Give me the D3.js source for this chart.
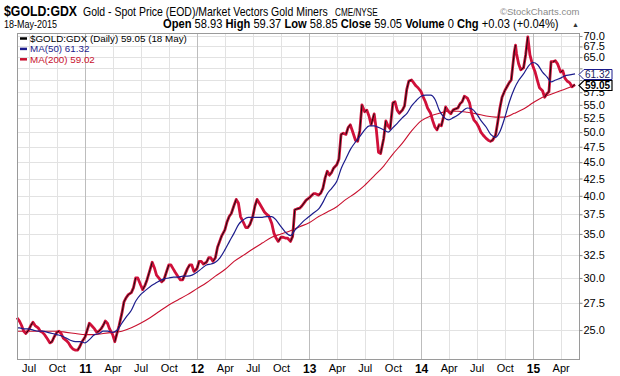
<!DOCTYPE html>
<html>
<head>
<meta charset="utf-8">
<script src="https://cdn.jsdelivr.net/npm/d3@7"></script>
<style>
  body { margin: 0; background: #fff; }
  svg { display: block; }
  text { font-family: "Liberation Sans", Arial, sans-serif; }
</style>
</head>
<body>
<div id="wrapper"></div>
<script>
/// Data ///
// $GOLD:GDX ratio, roughly weekly
const priceDates = [
  "2010-05-24",
  "2010-06-01","2010-06-08","2010-06-15","2010-06-22",
  "2010-07-01","2010-07-08","2010-07-15","2010-07-22",
  "2010-08-01","2010-08-08","2010-08-15","2010-08-22",
  "2010-09-01","2010-09-08","2010-09-15","2010-09-22",
  "2010-10-01","2010-10-08","2010-10-15","2010-10-22",
  "2010-11-01","2010-11-08","2010-11-15","2010-11-22",
  "2010-12-01","2010-12-08","2010-12-15","2010-12-22",
  "2011-01-01","2011-01-08","2011-01-15","2011-01-22",
  "2011-02-01","2011-02-08","2011-02-15","2011-02-22",
  "2011-03-01","2011-03-08","2011-03-15","2011-03-22",
  "2011-04-01","2011-04-08","2011-04-15","2011-04-22",
  "2011-05-01","2011-05-08","2011-05-15","2011-05-22",
  "2011-06-01","2011-06-08","2011-06-15","2011-06-22",
  "2011-07-01","2011-07-08","2011-07-15","2011-07-22",
  "2011-08-01","2011-08-08","2011-08-15","2011-08-22",
  "2011-09-01","2011-09-08","2011-09-15","2011-09-22",
  "2011-10-01","2011-10-08","2011-10-15","2011-10-22",
  "2011-11-01","2011-11-08","2011-11-15","2011-11-22",
  "2011-12-01","2011-12-08","2011-12-15","2011-12-22",
  "2012-01-01","2012-01-08","2012-01-15","2012-01-22",
  "2012-02-01","2012-02-08","2012-02-15","2012-02-22",
  "2012-03-01","2012-03-08","2012-03-15","2012-03-22",
  "2012-04-01","2012-04-08","2012-04-15","2012-04-22",
  "2012-05-01","2012-05-08","2012-05-15","2012-05-22",
  "2012-06-01","2012-06-08","2012-06-15","2012-06-22",
  "2012-07-01","2012-07-08","2012-07-15","2012-07-22",
  "2012-08-01","2012-08-08","2012-08-15","2012-08-22",
  "2012-09-01","2012-09-08","2012-09-15","2012-09-22",
  "2012-10-01","2012-10-08","2012-10-15","2012-10-22",
  "2012-11-01","2012-11-08","2012-11-15","2012-11-22",
  "2012-12-01","2012-12-08","2012-12-15","2012-12-22",
  "2013-01-01","2013-01-08","2013-01-15","2013-01-22",
  "2013-02-01","2013-02-08","2013-02-15","2013-02-22",
  "2013-03-01","2013-03-08","2013-03-15","2013-03-22",
  "2013-04-01","2013-04-08","2013-04-15","2013-04-22",
  "2013-05-01","2013-05-08","2013-05-15","2013-05-22",
  "2013-06-01","2013-06-08","2013-06-15","2013-06-22",
  "2013-07-01","2013-07-08","2013-07-15","2013-07-22",
  "2013-08-01","2013-08-08","2013-08-15","2013-08-22",
  "2013-09-01","2013-09-08","2013-09-15","2013-09-22",
  "2013-10-01","2013-10-08","2013-10-15","2013-10-22",
  "2013-11-01","2013-11-08","2013-11-15","2013-11-22",
  "2013-12-01","2013-12-08","2013-12-15","2013-12-22",
  "2014-01-01","2014-01-08","2014-01-15","2014-01-22",
  "2014-02-01","2014-02-08","2014-02-15","2014-02-22",
  "2014-03-01","2014-03-08","2014-03-15","2014-03-22",
  "2014-04-01","2014-04-08","2014-04-15","2014-04-22",
  "2014-05-01","2014-05-08","2014-05-15","2014-05-22",
  "2014-06-01","2014-06-08","2014-06-15","2014-06-22",
  "2014-07-01","2014-07-08","2014-07-15","2014-07-22",
  "2014-08-01","2014-08-08","2014-08-15","2014-08-22",
  "2014-09-01","2014-09-08","2014-09-15","2014-09-22",
  "2014-10-01","2014-10-08","2014-10-15","2014-10-22",
  "2014-11-01","2014-11-05","2014-11-08","2014-11-15","2014-11-22",
  "2014-12-01","2014-12-08","2014-12-15","2014-12-22",
  "2015-01-01","2015-01-08","2015-01-15","2015-01-22",
  "2015-02-01","2015-02-08","2015-02-15","2015-02-22",
  "2015-03-01","2015-03-08","2015-03-15","2015-03-22",
  "2015-04-01","2015-04-08","2015-04-15","2015-04-22",
  "2015-05-01","2015-05-08","2015-05-18"
];
const priceValues = [
  26.1,
  25.8, 25.4, 24.9, 24.7,
  25.0, 25.4, 25.7, 25.4,
  25.2, 24.9, 24.8, 24.6,
  24.2, 23.9, 24.0, 24.4,
  24.8, 24.9, 24.7, 24.3,
  24.1, 23.9, 23.6, 23.4,
  23.3, 23.3, 23.6, 24.0,
  24.4, 25.0, 25.6, 25.4,
  25.1, 24.8, 24.9, 25.1,
  25.4, 25.8, 25.6, 25.1,
  24.6, 24.0, 24.7, 25.4,
  26.5, 27.6, 28.0, 28.3,
  28.5, 29.0, 30.0, 30.0,
  29.3, 28.8, 29.2, 29.8,
  30.9, 31.7, 31.1, 30.3,
  29.9, 29.6, 29.8, 30.5,
  31.4, 31.4, 31.0, 30.6,
  30.1, 29.8, 29.8, 30.3,
  31.0, 31.4, 31.4, 30.7,
  31.0, 31.8, 31.8, 31.5,
  31.7, 32.2, 32.2, 31.8,
  32.2, 33.4, 34.1, 34.8,
  35.5, 36.5, 37.2, 37.6,
  38.7, 39.5, 39.0, 37.2,
  36.4, 35.8, 35.8, 36.2,
  37.2, 38.6, 39.5, 39.0,
  38.3, 37.8, 37.5, 37.3,
  36.3, 35.1, 34.5, 34.1,
  34.6, 34.6, 34.5, 34.5,
  34.1, 34.7, 38.1, 38.2,
  38.3, 38.6, 39.0, 39.4,
  39.7, 40.0, 40.3, 40.3,
  40.1, 40.4, 41.1, 42.6,
  43.6, 43.0, 43.4, 44.1,
  44.6, 45.5, 49.6, 49.8,
  49.6, 50.8, 51.3, 50.2,
  48.6, 48.4, 50.2, 55.0,
  53.7, 54.0, 52.9, 51.3,
  53.3, 50.4, 46.6, 46.4,
  48.9, 52.0, 51.1, 50.6,
  55.4, 55.6, 54.0, 53.4,
  54.0, 54.8, 58.0, 59.8,
  60.0, 59.4, 58.8, 58.4,
  57.6, 56.5, 55.6, 54.4,
  53.4, 52.0, 50.9, 50.4,
  51.3, 51.1, 52.7, 54.6,
  53.7, 53.3, 54.0, 54.2,
  54.4, 55.2, 55.6, 56.7,
  56.3, 55.4, 53.3, 52.2,
  51.6, 50.9, 50.0, 49.5,
  48.9, 48.6, 48.4, 48.6,
  49.5, 51.8, 54.4, 56.5,
  57.8, 58.6, 59.4, 60.0,
  66.2, 67.8, 65.9, 63.5, 62.2,
  62.6, 65.5, 69.8, 65.5,
  62.9, 61.7, 60.0, 58.4,
  57.8, 56.5, 57.2, 57.6,
  64.0, 64.0, 64.2, 63.5,
  61.7, 62.0, 60.4, 59.8,
  59.4, 58.6, 59.05
];

// MA(50), twice a month
const ma50Dates = [
  "2010-05-24","2010-06-01","2010-06-16","2010-07-01","2010-07-16","2010-08-01","2010-08-16",
  "2010-09-01","2010-09-16","2010-10-01","2010-10-16","2010-11-01","2010-11-16","2010-12-01","2010-12-16",
  "2011-01-01","2011-01-16","2011-02-01","2011-02-16","2011-03-01","2011-03-16","2011-04-01","2011-04-16",
  "2011-05-01","2011-05-16","2011-06-01","2011-06-16","2011-07-01","2011-07-16","2011-08-01","2011-08-16",
  "2011-09-01","2011-09-16","2011-10-01","2011-10-16","2011-11-01","2011-11-16","2011-12-01","2011-12-16",
  "2012-01-01","2012-01-16","2012-02-01","2012-02-16","2012-03-01","2012-03-16","2012-04-01","2012-04-16",
  "2012-05-01","2012-05-16","2012-06-01","2012-06-16","2012-07-01","2012-07-16","2012-08-01","2012-08-16",
  "2012-09-01","2012-09-16","2012-10-01","2012-10-16","2012-11-01","2012-11-16","2012-12-01","2012-12-16",
  "2013-01-01","2013-01-16","2013-02-01","2013-02-16","2013-03-01","2013-03-16","2013-04-01","2013-04-16",
  "2013-05-01","2013-05-16","2013-06-01","2013-06-16","2013-07-01","2013-07-16","2013-08-01","2013-08-16",
  "2013-09-01","2013-09-16","2013-10-01","2013-10-16","2013-11-01","2013-11-16","2013-12-01","2013-12-16",
  "2014-01-01","2014-01-16","2014-02-01","2014-02-16","2014-03-01","2014-03-16","2014-04-01","2014-04-16",
  "2014-05-01","2014-05-16","2014-06-01","2014-06-16","2014-07-01","2014-07-16","2014-08-01","2014-08-16",
  "2014-09-01","2014-09-16","2014-10-01","2014-10-16","2014-11-01","2014-11-16","2014-12-01","2014-12-16",
  "2015-01-01","2015-01-16","2015-02-01","2015-02-16","2015-03-01","2015-03-16","2015-04-01","2015-04-16",
  "2015-05-01","2015-05-18"
];
const ma50Values = [
  25.2, 25.2, 25.1, 25.1, 25.0, 24.9, 24.9,
  24.8, 24.7, 24.6, 24.5, 24.3, 24.1, 24.0, 24.0,
  23.9, 24.2, 24.6, 24.7, 24.9, 24.9, 24.8, 25.0,
  25.6, 26.2, 26.8, 27.7, 28.3, 28.7, 29.1, 29.4,
  29.7, 29.9, 30.0, 30.1, 30.1, 30.2, 30.2, 30.3,
  30.6, 31.0, 31.4, 31.5, 31.7, 32.2, 33.1, 34.1,
  35.1, 36.2, 36.8, 37.1, 37.1, 37.1, 37.1, 37.2,
  37.2, 36.7, 35.9, 35.2, 34.8, 35.5, 36.1, 36.7,
  37.2, 37.7, 38.2, 39.2, 40.3, 41.1, 42.1, 44.1,
  45.6, 47.1, 48.3, 49.3, 50.4, 51.1, 51.1, 50.8,
  50.4, 50.0, 50.8, 51.6, 52.6, 53.4, 54.8, 55.8,
  56.7, 56.9, 56.9, 56.0, 54.0, 52.7, 52.2, 52.6,
  53.1, 53.8, 54.4, 54.2, 53.3, 52.0, 50.9, 49.6,
  49.1, 50.2, 52.6, 55.6, 58.2, 60.0, 61.3, 62.9,
  63.8, 63.3, 61.7, 60.6, 59.6, 60.0, 60.4, 60.9,
  61.1, 61.32
];

// MA(200), monthly
const ma200Dates = [
  "2010-05-24","2010-06-01","2010-07-01","2010-08-01","2010-09-01","2010-10-01","2010-11-01","2010-12-01",
  "2011-01-01","2011-02-01","2011-03-01","2011-04-01","2011-05-01","2011-06-01",
  "2011-07-01","2011-08-01","2011-09-01","2011-10-01","2011-11-01","2011-12-01",
  "2012-01-01","2012-02-01","2012-03-01","2012-04-01","2012-05-01","2012-06-01",
  "2012-07-01","2012-08-01","2012-09-01","2012-10-01","2012-11-01","2012-12-01",
  "2013-01-01","2013-02-01","2013-03-01","2013-04-01","2013-05-01","2013-06-01",
  "2013-07-01","2013-08-01","2013-09-01","2013-10-01","2013-11-01","2013-12-01",
  "2014-01-01","2014-02-01","2014-03-01","2014-04-01","2014-05-01","2014-06-01",
  "2014-07-01","2014-08-01","2014-09-01","2014-10-01","2014-11-01","2014-12-01",
  "2015-01-01","2015-02-01","2015-03-01","2015-04-01","2015-05-01","2015-05-18"
];
const ma200Values = [
  24.9, 24.9, 24.9, 24.9, 24.9, 24.9, 24.8, 24.7,
  24.6, 24.6, 24.7, 24.8, 24.9, 25.2,
  25.6, 26.1, 26.7, 27.3, 27.8, 28.3,
  28.9, 29.5, 30.2, 30.9, 31.8, 32.5,
  33.2, 33.9, 34.6, 35.0, 35.4, 35.9,
  36.4, 37.2, 37.8, 38.5, 39.5, 40.4,
  41.5, 42.9, 44.4, 46.3, 48.1, 50.2,
  52.0, 52.9, 53.4, 53.8, 53.8, 53.6,
  53.3, 52.9, 52.7, 52.7, 53.4, 54.2,
  55.4, 56.5, 57.1, 57.8, 58.5, 59.02
];

/// Axis ticks ///
const yTicks = [25, 27.5, 30, 32.5, 35, 37.5, 40, 42.5, 45, 47.5, 50, 52.5, 55, 57.5, 60, 62.5, 65, 67.5, 70];
// labels hidden behind the last-value tags in the reference
const yHiddenLabels = [60, 62.5];
const xTickDates = [
  "2010-07-01","2010-10-01","2011-01-01","2011-04-01","2011-07-01","2011-10-01",
  "2012-01-01","2012-04-01","2012-07-01","2012-10-01","2013-01-01","2013-04-01",
  "2013-07-01","2013-10-01","2014-01-01","2014-04-01","2014-07-01","2014-10-01",
  "2015-01-01","2015-04-01"
];
const xTickLabels = ["Jul","Oct","11","Apr","Jul","Oct","12","Apr","Jul","Oct","13","Apr","Jul","Oct","14","Apr","Jul","Oct","15","Apr"];

/// Header texts ///
const symbol = "$GOLD:GDX";
const subtitle = "Gold - Spot Price (EOD)/Market Vectors Gold Miners";
const exchange = "CME/NYSE";
const dateText = "18-May-2015";
const quote = [["Open", "58.93"], ["High", "59.37"], ["Low", "58.85"], ["Close", "59.05"], ["Volume", "0"], ["Chg", "+0.03 (+0.04%)"]];
const legendItems = [
  { label: "$GOLD:GDX (Daily) 59.05 (18 May)", color: "#000" },
  { label: "MA(50) 61.32", color: "#1c1c8c" },
  { label: "MA(200) 59.02", color: "#c8102e" }
];
const lastPrice = 59.05, lastMa50 = 61.32;

/// Dimensions ///
const width = 620, height = 376;
const plot = { left: 17, right: 579, top: 33, bottom: 359 };
const upColour = "#111", downColour = "#d0103a";
const ma50Colour = "#1c1c8c", ma200Colour = "#c8102e";
const squeeze = 0.82; // header font is a condensed face

const svg = d3.select("#wrapper").append("svg")
  .attr("width", width)
  .attr("height", height);

const parse = d3.timeParse("%Y-%m-%d");

/// Scales ///
const x = d3.scaleTime()
  .domain([parse("2010-05-24"), parse("2015-05-31")])
  .range([plot.left, plot.right]);
const y = d3.scaleLog()
  .domain([22.59, 70.74])
  .range([plot.bottom, plot.top]);

const price = priceDates.map((d, i) => ({ date: parse(d), value: priceValues[i] }));
const ma50 = ma50Dates.map((d, i) => ({ date: parse(d), value: ma50Values[i] }));
const ma200 = ma200Dates.map((d, i) => ({ date: parse(d), value: ma200Values[i] }));

/// Grid ///
const grid = svg.append("g");
grid.selectAll(".hgrid").data(yTicks).join("line")
  .attr("x1", plot.left).attr("x2", plot.right)
  .attr("y1", d => Math.round(y(d)) + 0.5).attr("y2", d => Math.round(y(d)) + 0.5)
  .attr("stroke", "#e2e2e2");
grid.selectAll(".vgrid").data(xTickDates).join("line")
  .attr("x1", d => Math.round(x(parse(d))) + 0.5).attr("x2", d => Math.round(x(parse(d))) + 0.5)
  .attr("y1", plot.top).attr("y2", plot.bottom)
  .attr("stroke", (d, i) => /^\d+$/.test(xTickLabels[i]) ? "#bdbdbd" : "#e2e2e2");

/// Lines ///
const line = d3.line()
  .x(d => x(d.date))
  .y(d => y(d.value))
  .curve(d3.curveMonotoneX);

svg.append("path").datum(ma200)
  .attr("d", line).attr("fill", "none")
  .attr("stroke", ma200Colour).attr("stroke-width", 1.1);

// price: thick red line, rising moves get a thin dark core
svg.append("path").datum(price)
  .attr("d", d3.line().x(d => x(d.date)).y(d => y(d.value)))
  .attr("fill", "none")
  .attr("stroke", downColour).attr("stroke-width", 2.8)
  .attr("stroke-linejoin", "round");
svg.append("g").selectAll("line")
  .data(d3.pairs(price).filter(d => d[1].value > d[0].value))
  .join("line")
  .attr("x1", d => x(d[0].date)).attr("y1", d => y(d[0].value))
  .attr("x2", d => x(d[1].date)).attr("y2", d => y(d[1].value))
  .attr("stroke", upColour)
  .attr("stroke-width", 1);

svg.append("path").datum(ma50)
  .attr("d", line).attr("fill", "none")
  .attr("stroke", ma50Colour).attr("stroke-width", 1.2);

/// Border ///
svg.append("rect")
  .attr("x", plot.left + 0.5).attr("y", plot.top + 0.5)
  .attr("width", plot.right - plot.left).attr("height", plot.bottom - plot.top)
  .attr("fill", "none").attr("stroke", "#9a9a9a");

/// Axes ///
const yAxis = svg.append("g")
  .attr("transform", `translate(${plot.right + 0.5}, 0)`)
  .call(d3.axisRight(y).tickValues(yTicks)
    .tickFormat(d => yHiddenLabels.includes(d) ? "" : d3.format(".1f")(d))
    .tickSize(3).tickPadding(1));
yAxis.select(".domain").remove();
yAxis.selectAll("line").attr("stroke", "#888");
yAxis.selectAll("text").attr("font-size", 11).attr("fill", "#000")
  .attr("font-family", "Liberation Sans, Arial, sans-serif");

const xAxis = svg.append("g")
  .attr("transform", `translate(0, ${plot.bottom})`)
  .call(d3.axisBottom(x).tickValues(xTickDates.map(parse)).tickFormat((d, i) => xTickLabels[i]).tickSize(0).tickPadding(5));
xAxis.select(".domain").remove();
xAxis.selectAll("text").attr("fill", "#000")
  .attr("font-family", "Liberation Sans, Arial, sans-serif")
  .attr("font-weight", (d, i) => /^\d+$/.test(xTickLabels[i]) ? "bold" : "normal")
  .attr("font-size", (d, i) => /^\d+$/.test(xTickLabels[i]) ? 12 : 11);

/// Last value tags ///
const tag = (v, colour, bold) => {
  const yc = Math.round(y(v)) + 0.5;
  const g = svg.append("g");
  g.append("path")
    .attr("d", `M${plot.right},${yc} L${plot.right + 5},${yc - 5} L612,${yc - 5} L612,${yc + 5} L${plot.right + 5},${yc + 5} Z`)
    .attr("fill", "#fff").attr("stroke", colour).attr("stroke-width", bold ? 1.2 : 1);
  g.append("text")
    .attr("x", plot.right + 6).attr("y", yc + 3.6)
    .attr("font-size", 10).attr("font-weight", bold ? "bold" : "normal")
    .attr("fill", bold ? "#000" : "#1c1c5c")
    .text(v.toFixed(2));
};
tag(lastMa50, ma50Colour, false);
tag(lastPrice, "#000", true);

/// Legend ///
const legend = svg.append("g");
legendItems.forEach((d, i) => {
  const ly = 42 + i * 10.4;
  legend.append("line")
    .attr("x1", 20).attr("x2", 27).attr("y1", ly - 3.5).attr("y2", ly - 3.5)
    .attr("stroke", d.color).attr("stroke-width", 2.5);
  legend.append("text")
    .attr("x", 30).attr("y", ly)
    .attr("font-size", 9.8).attr("fill", d.color)
    .attr("font-family", "DejaVu Sans, sans-serif")
    .text(d.label);
});

/// Header ///
// condensed text: Liberation Sans squeezed horizontally
const header = (tx, ty, size, str, weight) => svg.append("text")
  .attr("transform", `translate(${tx},${ty}) scale(${squeeze},1)`)
  .attr("font-family", "Liberation Sans, Arial, sans-serif")
  .attr("font-size", size)
  .attr("font-weight", weight || "normal")
  .text(str);

header(4, 16, 15, symbol, "bold");
header(83, 16, 12.8, subtitle);
header(335, 16, 10, exchange);
header(4, 28, 11, dateText);

const q = svg.append("text")
  .attr("transform", `translate(163,28) scale(${squeeze},1)`)
  .attr("font-family", "Liberation Sans, Arial, sans-serif")
  .attr("font-size", 13.6);
quote.forEach(([k, v], i) => {
  q.append("tspan").attr("font-weight", "bold").text((i ? " " : "") + k);
  q.append("tspan").attr("font-weight", "normal").text(" " + v);
});

svg.append("text")
  .attr("x", 500).attr("y", 15)
  .attr("font-family", "DejaVu Sans, sans-serif")
  .attr("font-size", 9.5).attr("fill", "#8a8a8a")
  .text("\u00a9StockCharts.com");
svg.append("text")
  .attr("x", 572).attr("y", 27)
  .attr("font-size", 7).attr("fill", "#333")
  .text("\u25b2");
</script>
</body>
</html>
